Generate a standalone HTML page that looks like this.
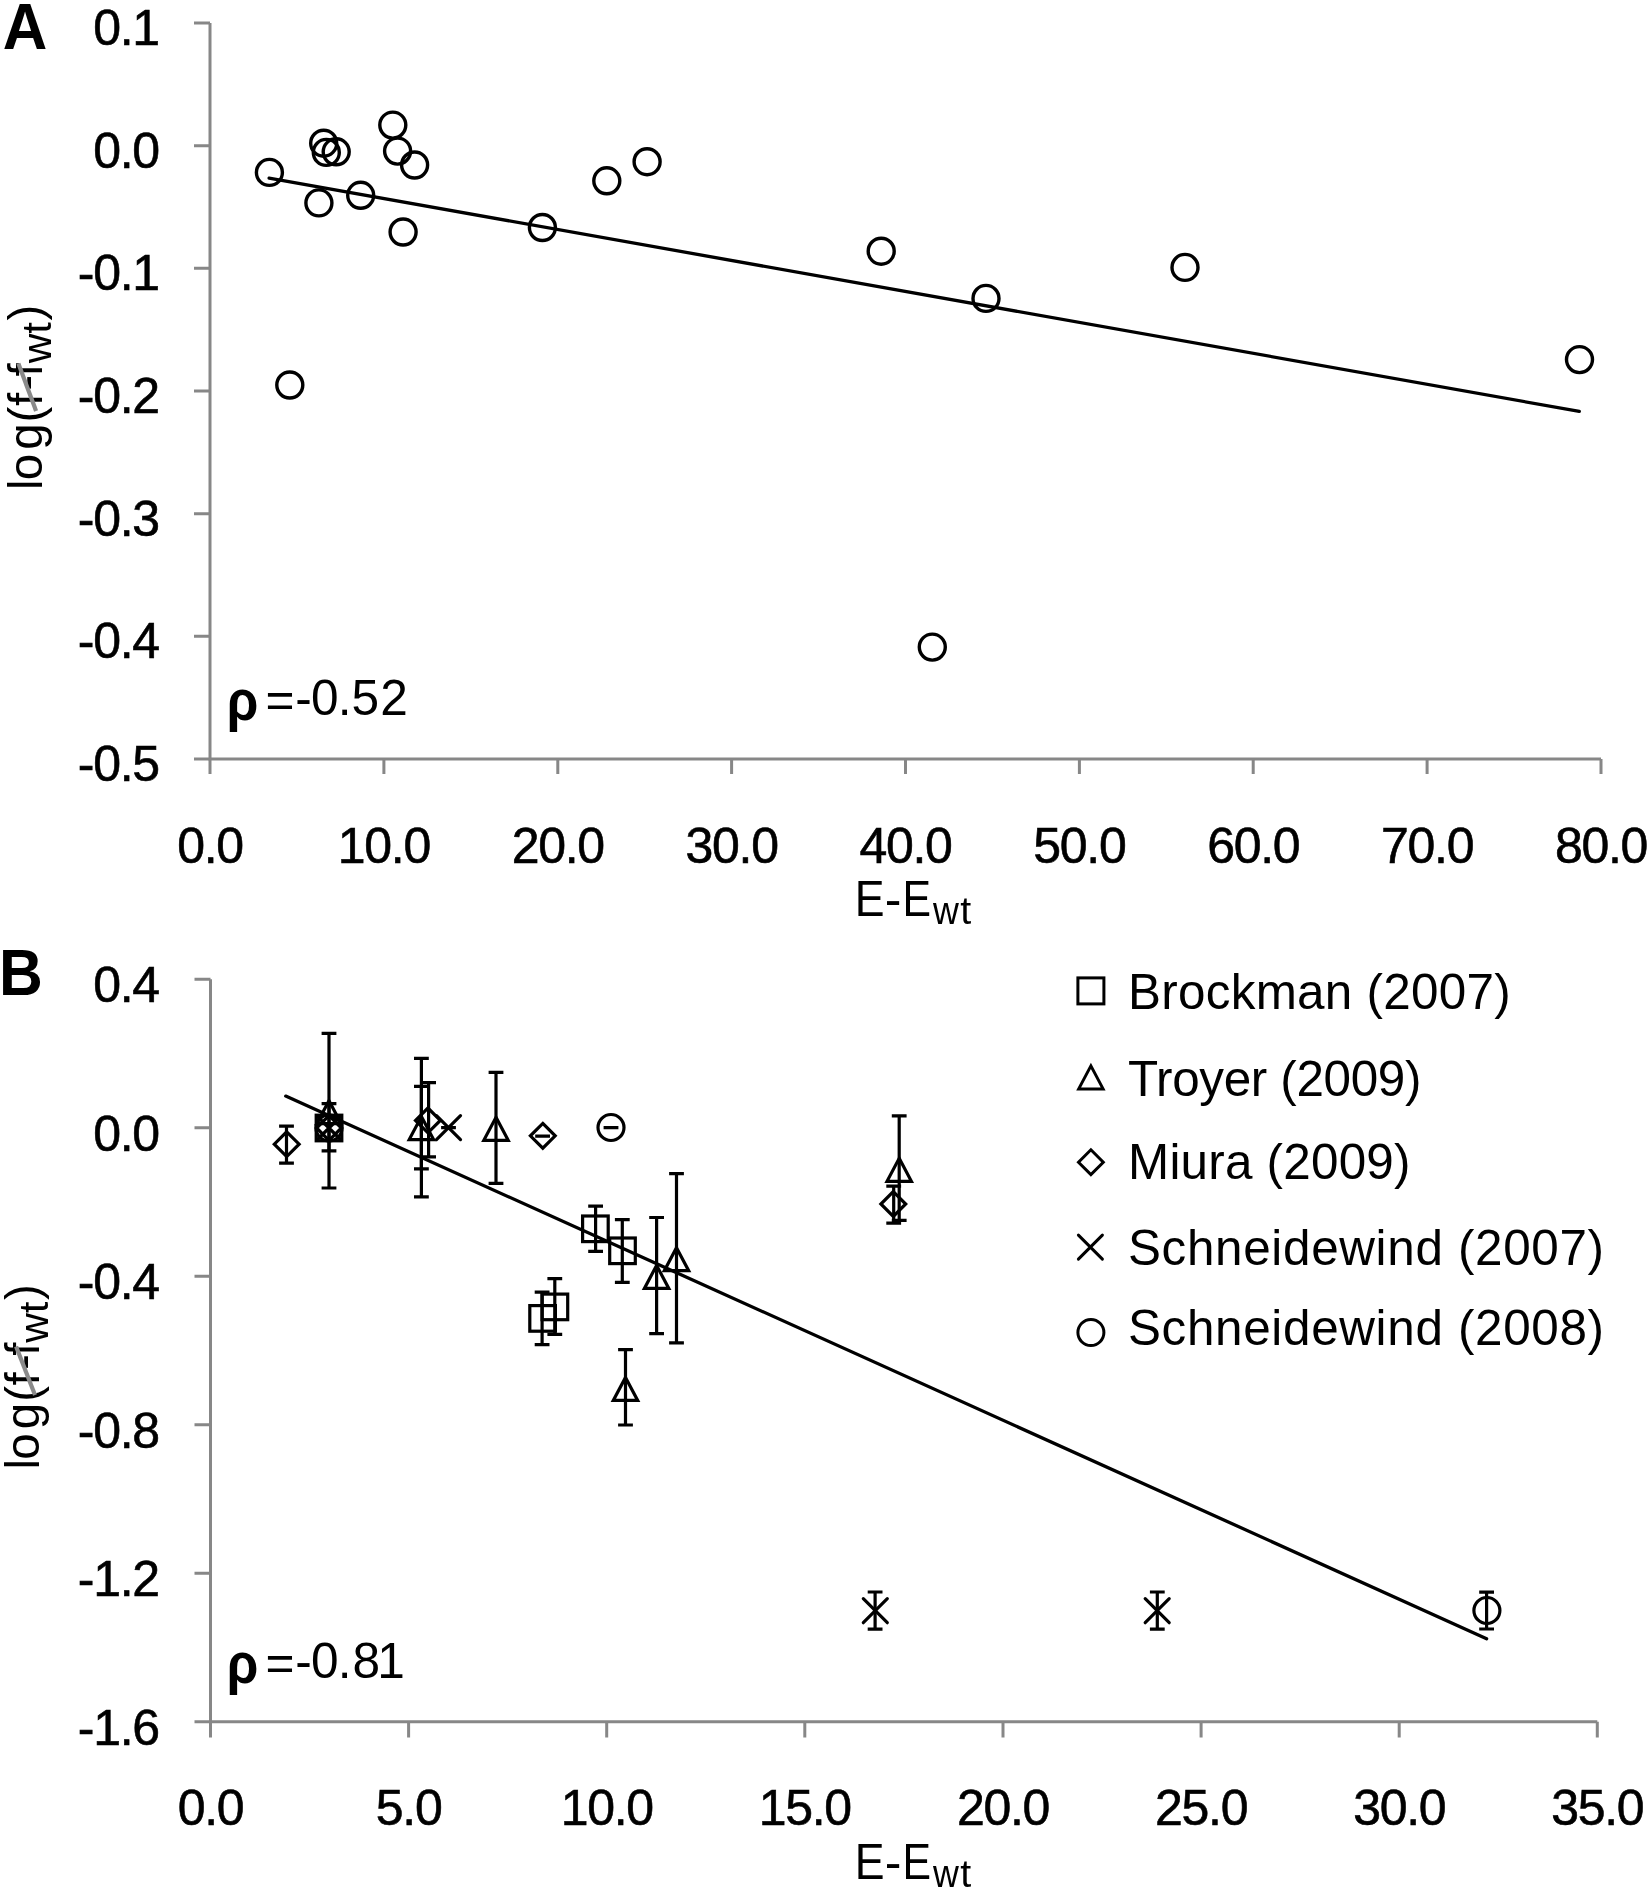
<!DOCTYPE html>
<html><head><meta charset="utf-8"><style>
html,body{margin:0;padding:0;background:#fff;}
svg{display:block;will-change:transform;}
text{font-family:"Liberation Sans",sans-serif;fill:#000;}
.tk{font-size:50px;stroke:#000;stroke-width:0.6px;letter-spacing:-1.3px;}
.pl{font-size:65px;font-weight:bold;}
.ax{font-size:52px;}
.sub{font-size:41px;}
.yl{font-size:48px;}
.rho{font-size:58px;font-weight:bold;}
.rv{font-size:49px;}
.lg{font-size:49.4px;}
</style></head><body>
<svg width="1652" height="1892" viewBox="0 0 1652 1892">
<rect width="1652" height="1892" fill="#fff"/>
<path d="M210.0 23.0 V759.0 H1601.0" fill="none" stroke="#878787" stroke-width="3"/>
<path d="M194 23.0H210.0M194 145.7H210.0M194 268.3H210.0M194 391.0H210.0M194 513.7H210.0M194 636.3H210.0M194 759.0H210.0M210.0 759.0V774M383.9 759.0V774M557.8 759.0V774M731.6 759.0V774M905.5 759.0V774M1079.4 759.0V774M1253.2 759.0V774M1427.1 759.0V774M1601.0 759.0V774" fill="none" stroke="#878787" stroke-width="3"/>
<text x="158.8" y="45.0" class="tk" text-anchor="end">0.1</text>
<text x="158.8" y="167.7" class="tk" text-anchor="end">0.0</text>
<text x="158.8" y="290.3" class="tk" text-anchor="end">-0.1</text>
<text x="158.8" y="413.0" class="tk" text-anchor="end">-0.2</text>
<text x="158.8" y="535.7" class="tk" text-anchor="end">-0.3</text>
<text x="158.8" y="658.3" class="tk" text-anchor="end">-0.4</text>
<text x="158.8" y="781.0" class="tk" text-anchor="end">-0.5</text>
<text x="210.0" y="862.6" class="tk" text-anchor="middle">0.0</text>
<text x="383.9" y="862.6" class="tk" text-anchor="middle">10.0</text>
<text x="557.8" y="862.6" class="tk" text-anchor="middle">20.0</text>
<text x="731.6" y="862.6" class="tk" text-anchor="middle">30.0</text>
<text x="905.5" y="862.6" class="tk" text-anchor="middle">40.0</text>
<text x="1079.4" y="862.6" class="tk" text-anchor="middle">50.0</text>
<text x="1253.2" y="862.6" class="tk" text-anchor="middle">60.0</text>
<text x="1427.1" y="862.6" class="tk" text-anchor="middle">70.0</text>
<text x="1601.0" y="862.6" class="tk" text-anchor="middle">80.0</text>
<text transform="translate(2.86,49.00) scale(0.952,1)" style="font-size:64.8px;font-weight:bold;">A</text>
<text transform="translate(-1.06,995.10) scale(0.945,1)" style="font-size:64.2px;font-weight:bold;">B</text>
<text transform="translate(854.74,916.20) scale(0.893,1)" style="font-size:50px;">E</text>
<text transform="translate(884.72,916.20) scale(1.000,1)" style="font-size:50px;">-</text>
<text transform="translate(902.39,916.20) scale(0.856,1)" style="font-size:50px;">E</text>
<text transform="translate(933.05,924.40) scale(0.909,1)" style="font-size:39.4px;">w</text>
<text transform="translate(960.22,924.40) scale(1.000,1)" style="font-size:39.4px;">t</text>
<text transform="translate(854.74,1878.60) scale(0.893,1)" style="font-size:50px;">E</text>
<text transform="translate(884.72,1878.60) scale(1.000,1)" style="font-size:50px;">-</text>
<text transform="translate(902.39,1878.60) scale(0.856,1)" style="font-size:50px;">E</text>
<text transform="translate(933.05,1886.80) scale(0.909,1)" style="font-size:39.4px;">w</text>
<text transform="translate(960.22,1886.80) scale(1.000,1)" style="font-size:39.4px;">t</text>
<g transform="translate(41.6,0) rotate(-90)"><text transform="translate(-490.09,0.00) scale(1.000,1)" style="font-size:47.5px;">l</text><text transform="translate(-480.26,0.00) scale(1.000,1)" style="font-size:47.5px;">o</text><text transform="translate(-449.73,0.00) scale(1.000,1)" style="font-size:47.5px;">g</text><text transform="translate(-422.39,0.00) scale(1.000,1)" style="font-size:47.5px;">(</text><text transform="translate(-406.02,0.00) scale(1.000,1)" style="font-size:47.5px;">f</text><text transform="translate(-390.66,0.00) scale(1.000,1)" style="font-size:47.5px;">-</text><text transform="translate(-376.42,0.00) scale(1.000,1)" style="font-size:47.5px;">f</text><text transform="translate(-320.53,0.00) scale(1.000,1)" style="font-size:47.5px;">)</text><text transform="translate(-363.32,9.10) scale(1.000,1)" style="font-size:41px;">w</text><text transform="translate(-333.61,9.10) scale(1.000,1)" style="font-size:41px;">t</text></g>
<line x1="18.4" y1="363.4" x2="36.1" y2="411" stroke="#8a8a8a" stroke-width="4.2"/>
<g transform="translate(38.8,0) rotate(-90)"><text transform="translate(-1469.49,0.00) scale(1.000,1)" style="font-size:47.5px;">l</text><text transform="translate(-1459.66,0.00) scale(1.000,1)" style="font-size:47.5px;">o</text><text transform="translate(-1429.13,0.00) scale(1.000,1)" style="font-size:47.5px;">g</text><text transform="translate(-1401.79,0.00) scale(1.000,1)" style="font-size:47.5px;">(</text><text transform="translate(-1385.42,0.00) scale(1.000,1)" style="font-size:47.5px;">f</text><text transform="translate(-1370.06,0.00) scale(1.000,1)" style="font-size:47.5px;">-</text><text transform="translate(-1355.82,0.00) scale(1.000,1)" style="font-size:47.5px;">f</text><text transform="translate(-1299.93,0.00) scale(1.000,1)" style="font-size:47.5px;">)</text><text transform="translate(-1342.72,9.10) scale(1.000,1)" style="font-size:41px;">w</text><text transform="translate(-1313.01,9.10) scale(1.000,1)" style="font-size:41px;">t</text></g>
<line x1="16.1" y1="1346.6" x2="35" y2="1394.9" stroke="#8a8a8a" stroke-width="4.2"/>
<text transform="translate(226.68,719.70) scale(0.889,1)" style="font-size:57.5px;font-weight:bold;">ρ</text>
<text transform="translate(265.43,717.00) scale(1.000,1)" style="font-size:49.6px;">=</text>
<text transform="translate(295.29,714.50) scale(1.000,1)" style="font-size:49.6px;">-</text>
<text transform="translate(310.91,714.50) scale(1.000,1)" style="font-size:49.6px;">0</text>
<text transform="translate(337.81,714.50) scale(1.000,1)" style="font-size:49.6px;">.</text>
<text transform="translate(351.56,714.50) scale(1.000,1)" style="font-size:49.6px;">5</text>
<text transform="translate(380.21,714.50) scale(1.000,1)" style="font-size:49.6px;">2</text>
<text transform="translate(226.68,1682.70) scale(0.889,1)" style="font-size:57.5px;font-weight:bold;">ρ</text>
<text transform="translate(265.43,1680.00) scale(1.000,1)" style="font-size:49.6px;">=</text>
<text transform="translate(295.29,1677.50) scale(1.000,1)" style="font-size:49.6px;">-</text>
<text transform="translate(310.91,1677.50) scale(1.000,1)" style="font-size:49.6px;">0</text>
<text transform="translate(337.81,1677.50) scale(1.000,1)" style="font-size:49.6px;">.</text>
<text transform="translate(352.41,1677.50) scale(1.000,1)" style="font-size:49.6px;">8</text>
<text transform="translate(377.18,1677.50) scale(1.000,1)" style="font-size:49.6px;">1</text>
<line x1="269.1" y1="178.1" x2="1579.3" y2="411.4" stroke="#000" stroke-width="3.3" stroke-linecap="round"/>
<g fill="none" stroke="#000" stroke-width="3.4"><circle cx="269.4" cy="172.4" r="13"/><circle cx="323.7" cy="143.2" r="13"/><circle cx="326.3" cy="152.4" r="13"/><circle cx="336.2" cy="151.8" r="13"/><circle cx="392.8" cy="125.1" r="13"/><circle cx="397.6" cy="151.1" r="13"/><circle cx="414.6" cy="165" r="13"/><circle cx="318.9" cy="202.9" r="13"/><circle cx="360.7" cy="195.3" r="13"/><circle cx="403.1" cy="232" r="13"/><circle cx="289.8" cy="385" r="13"/><circle cx="542.4" cy="227.5" r="13"/><circle cx="606.8" cy="180.8" r="13"/><circle cx="647.1" cy="161.7" r="13"/><circle cx="881.2" cy="251.2" r="13"/><circle cx="986" cy="298.4" r="13"/><circle cx="1185" cy="267.4" r="13"/><circle cx="932.3" cy="647.1" r="13"/><circle cx="1579.5" cy="359.6" r="13"/></g>
<path d="M210.5 979.3 V1721.8 H1597.3" fill="none" stroke="#878787" stroke-width="3"/>
<path d="M194.5 979.3H210.5M194.5 1127.8H210.5M194.5 1276.3H210.5M194.5 1424.8H210.5M194.5 1573.3H210.5M194.5 1721.8H210.5M210.5 1721.8V1737.5M408.6 1721.8V1737.5M606.7 1721.8V1737.5M804.8 1721.8V1737.5M1003.0 1721.8V1737.5M1201.1 1721.8V1737.5M1399.2 1721.8V1737.5M1597.3 1721.8V1737.5" fill="none" stroke="#878787" stroke-width="3"/>
<text x="158.8" y="1002.3" class="tk" text-anchor="end">0.4</text>
<text x="158.8" y="1150.8" class="tk" text-anchor="end">0.0</text>
<text x="158.8" y="1299.3" class="tk" text-anchor="end">-0.4</text>
<text x="158.8" y="1447.8" class="tk" text-anchor="end">-0.8</text>
<text x="158.8" y="1596.3" class="tk" text-anchor="end">-1.2</text>
<text x="158.8" y="1744.8" class="tk" text-anchor="end">-1.6</text>
<text x="210.5" y="1825.1" class="tk" text-anchor="middle">0.0</text>
<text x="408.6" y="1825.1" class="tk" text-anchor="middle">5.0</text>
<text x="606.7" y="1825.1" class="tk" text-anchor="middle">10.0</text>
<text x="804.8" y="1825.1" class="tk" text-anchor="middle">15.0</text>
<text x="1003.0" y="1825.1" class="tk" text-anchor="middle">20.0</text>
<text x="1201.1" y="1825.1" class="tk" text-anchor="middle">25.0</text>
<text x="1399.2" y="1825.1" class="tk" text-anchor="middle">30.0</text>
<text x="1597.3" y="1825.1" class="tk" text-anchor="middle">35.0</text>
<line x1="285.7" y1="1096.1" x2="1486.6" y2="1638.7" stroke="#000" stroke-width="3.3" stroke-linecap="round"/>
<g fill="none" stroke="#000" stroke-width="3.2"><path d="M286.7 1131.8L299.1 1144.2L286.7 1156.6L274.3 1144.2Z"/><path d="M286.5 1126.1V1163.2M279.1 1126.1H293.9M279.1 1163.2H293.9"/><path d="M329.0 1033.3V1188.0M321.6 1033.3H336.4M321.6 1188.0H336.4"/><path d="M329.0 1103.7V1150.8M321.6 1103.7H336.4M321.6 1150.8H336.4"/><rect x="316.2" y="1115.2" width="25.6" height="25.6"/><path d="M329.0 1115.6L341.4 1128.0L329.0 1140.4L316.6 1128.0Z"/><circle cx="329.0" cy="1128.0" r="13"/><path d="M317.0 1116.0L341.0 1140.0M317.0 1140.0L341.0 1116.0" stroke-linecap="round"/><path d="M329.0 1100.7L341.2 1123.7H316.8Z" stroke-linejoin="miter"/><path d="M421.4 1116.6L433.6 1139.6H409.2Z" stroke-linejoin="miter"/><path d="M421.4 1058.4V1196.8M414.0 1058.4H428.8M414.0 1196.8H428.8"/><path d="M421.4 1086.3V1168.9M414.0 1086.3H428.8M414.0 1168.9H428.8"/><path d="M427.9 1108.0L440.3 1120.4L427.9 1132.8L415.5 1120.4Z"/><path d="M428.6 1082.7V1156.8M421.2 1082.7H436.0M421.2 1156.8H436.0"/><path d="M436.5 1115.6L460.5 1139.6M436.5 1139.6L460.5 1115.6" stroke-linecap="round"/><path d="M448.5 1127.6V1127.6M441.1 1127.6H455.9M441.1 1127.6H455.9"/><path d="M496.0 1117.3L508.2 1140.3H483.8Z" stroke-linejoin="miter"/><path d="M496.0 1072.3V1183.3M488.6 1072.3H503.4M488.6 1183.3H503.4"/><path d="M542.8 1123.4L555.2 1135.8L542.8 1148.2L530.4 1135.8Z"/><path d="M542.6 1136.2V1136.2M535.2 1136.2H550.0M535.2 1136.2H550.0"/><circle cx="611.0" cy="1127.5" r="13"/><path d="M611.0 1127.7V1127.7M603.6 1127.7H618.4M603.6 1127.7H618.4"/><rect x="582.6" y="1216.0" width="25.6" height="25.6"/><path d="M595.6 1206.1V1251.4M588.2 1206.1H603.0M588.2 1251.4H603.0"/><rect x="609.7" y="1238.0" width="25.6" height="25.6"/><path d="M622.3 1219.7V1282.4M614.9 1219.7H629.7M614.9 1282.4H629.7"/><rect x="529.8" y="1305.6" width="25.6" height="25.6"/><path d="M542.1 1292.1V1344.6M534.7 1292.1H549.5M534.7 1344.6H549.5"/><rect x="542.1" y="1294.1" width="25.6" height="25.6"/><path d="M554.8 1278.6V1334.4M547.4 1278.6H562.2M547.4 1334.4H562.2"/><path d="M656.6 1265.4L668.8 1288.4H644.4Z" stroke-linejoin="miter"/><path d="M656.6 1217.5V1333.6M649.2 1217.5H664.0M649.2 1333.6H664.0"/><path d="M676.5 1247.7L688.7 1270.7H664.3Z" stroke-linejoin="miter"/><path d="M676.5 1173.7V1342.9M669.1 1173.7H683.9M669.1 1342.9H683.9"/><path d="M625.5 1377.4L637.7 1400.4H613.3Z" stroke-linejoin="miter"/><path d="M625.5 1349.7V1425.0M618.1 1349.7H632.9M618.1 1425.0H632.9"/><path d="M899.2 1158.3L911.4 1181.3H887.0Z" stroke-linejoin="miter"/><path d="M899.2 1115.9V1220.3M891.8 1115.9H906.6M891.8 1220.3H906.6"/><path d="M893.3 1191.6L905.7 1204.0L893.3 1216.4L880.9 1204.0Z"/><path d="M893.7 1186.2V1223.2M886.3 1186.2H901.1M886.3 1223.2H901.1"/><path d="M863.3 1598.7L887.3 1622.7M863.3 1622.7L887.3 1598.7" stroke-linecap="round"/><path d="M875.1 1592.0V1629.2M867.7 1592.0H882.5M867.7 1629.2H882.5"/><path d="M1145.2 1598.7L1169.2 1622.7M1145.2 1622.7L1169.2 1598.7" stroke-linecap="round"/><path d="M1157.3 1592.0V1629.2M1149.9 1592.0H1164.7M1149.9 1629.2H1164.7"/><circle cx="1486.9" cy="1610.5" r="13"/><path d="M1486.6 1592.1V1629.0M1479.2 1592.1H1494.0M1479.2 1629.0H1494.0"/></g>
<g fill="none" stroke="#000" stroke-width="3"><rect x="1077.9" y="977.9" width="26.0" height="26.0"/><path d="M1090.9 1065.9L1103.1 1088.9H1078.7Z" stroke-linejoin="miter"/><path d="M1090.9 1149.8L1103.3 1162.2L1090.9 1174.6L1078.5 1162.2Z"/><path d="M1078.4 1235.1L1102.4 1259.1M1078.4 1259.1L1102.4 1235.1" stroke-linecap="round"/><circle cx="1090.9" cy="1332.5" r="13"/></g>
<text x="1128" y="1009" class="lg" textLength="382.7">Brockman (2007)</text>
<text x="1128" y="1096.2" class="lg" textLength="293.4">Troyer (2009)</text>
<text x="1128" y="1179" class="lg" textLength="282.5">Miura (2009)</text>
<text x="1128" y="1265" class="lg" textLength="476">Schneidewind (2007)</text>
<text x="1128" y="1344.5" class="lg" textLength="476">Schneidewind (2008)</text>
</svg>
</body></html>
